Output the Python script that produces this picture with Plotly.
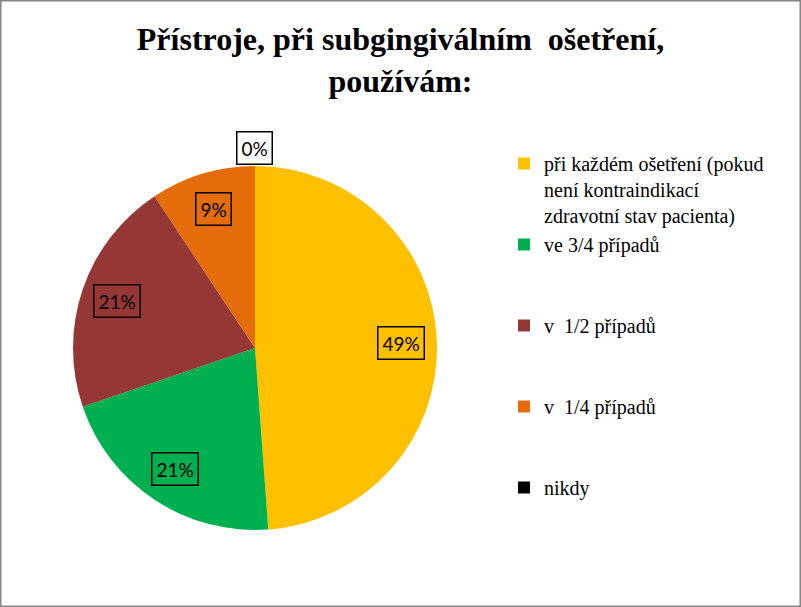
import math
import plotly.graph_objects as go

labels = [
    "při každém ošetření (pokud<br>není kontraindikací<br>zdravotní stav pacienta)",
    "ve 3/4 případů<br> <br> ",
    "v  1/2 případů<br> <br> ",
    "v  1/4 případů<br> <br> ",
    "nikdy",
]
values = [21, 9, 9, 4, 0]
colors = ["#FFC000", "#00B050", "#953735", "#E46C0A", "#000000"]
title_text = "<b>Přístroje, při subgingiválním  ošetření,<br>používám:</b>"

W, H = 801, 607
# pie domain in paper fractions
dom_x = [73 / W, 437 / W]
dom_y = [1 - 530 / H, 1 - 166 / H]

fig = go.Figure()
fig.add_trace(go.Pie(
    labels=labels,
    values=values,
    marker=dict(colors=colors, line=dict(width=0)),
    sort=False,
    direction="clockwise",
    rotation=0,
    textinfo="none",
    hoverinfo="label+percent",
    domain=dict(x=dom_x, y=dom_y),
    showlegend=True,
))

# data labels with boxes, placed from the slice angles
total = sum(values)
cx = (dom_x[0] + dom_x[1]) / 2 * W
cy = (1 - (dom_y[0] + dom_y[1]) / 2) * H
r = (dom_x[1] - dom_x[0]) * W / 2
cum = 0
for v in values:
    mid = (cum + v / 2) / total * 2 * math.pi
    cum += v
    frac = 0.8 if v > 0 else 1.1
    px = cx + r * frac * math.sin(mid)
    py = cy - r * frac * math.cos(mid)
    fig.add_annotation(
        x=px / W, y=1 - py / H, xref="paper", yref="paper",
        xanchor="center", yanchor="middle",
        text=f"{round(v / total * 100)}%",
        showarrow=False,
        font=dict(family="Lato", size=19, color="#000000"),
        bordercolor="#000000", borderwidth=1.5, borderpad=4,
        bgcolor="rgba(255,255,255,1)" if v == 0 else "rgba(0,0,0,0)",
    )

fig.add_shape(type="rect", xref="paper", yref="paper", x0=0, y0=0, x1=1, y1=1,
              line=dict(color="#868686", width=3))

fig.update_layout(
    width=W, height=H,
    margin=dict(l=0, r=0, t=0, b=0),
    paper_bgcolor="white",
    font=dict(family="Liberation Serif", color="#000000"),
    title=dict(text=title_text, x=0.5, xanchor="center", y=0.917, yanchor="top",
               font=dict(family="Liberation Serif", size=32, color="#000000")),
    legend=dict(x=504 / W, xanchor="left", y=1 - 144 / H, yanchor="top",
                valign="top", font=dict(family="Liberation Serif", size=20, color="#000000"),
                bgcolor="rgba(0,0,0,0)", tracegroupgap=0),
)

fig.write_html("out.html")
